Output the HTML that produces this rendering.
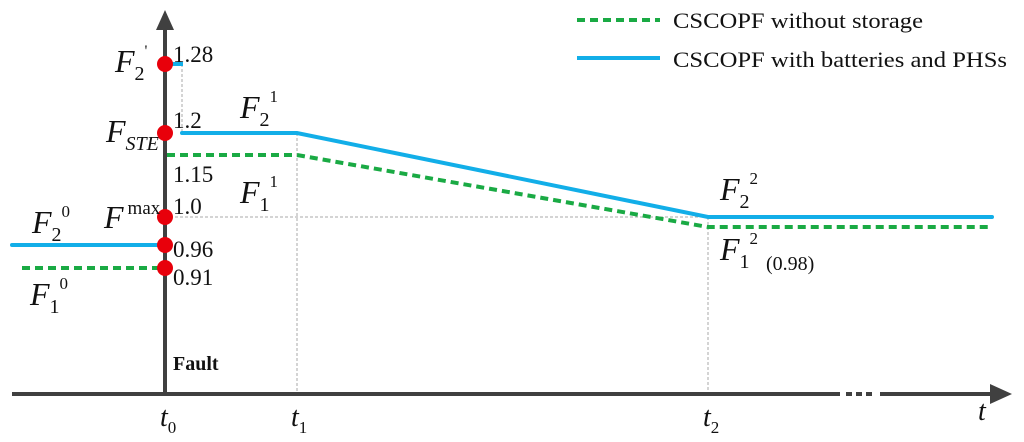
<!DOCTYPE html>
<html><head><meta charset="utf-8"><style>
body{margin:0;background:#fff}
svg{font-family:"Liberation Serif",serif;display:block}
.it{font-style:italic}
</style></head><body>
<svg width="1024" height="442" viewBox="0 0 1024 442">
<g id="grid" stroke="#aaa" stroke-width="1" stroke-dasharray="3,2" fill="none"></g>
<g id="axes">
 <line x1="12" y1="394" x2="840" y2="394" stroke="#404040" stroke-width="4"/>
 <line x1="846" y1="394" x2="876" y2="394" stroke="#404040" stroke-width="4" stroke-dasharray="6,4"/>
 <line x1="880" y1="394" x2="995" y2="394" stroke="#404040" stroke-width="4"/>
 <polygon points="1012,394 990,384 990,404" fill="#404040"/>
 <line x1="165" y1="394" x2="165" y2="25" stroke="#404040" stroke-width="4"/>
 <polygon points="165,10 156,30 174,30" fill="#404040"/>
</g>
<g id="series"></g>
<g id="dots"></g>
<g id="labels" font-size="23" fill="#111">
 <text x="115" y="72" class="it" font-size="32">F<tspan font-size="20" dy="8" font-style="normal">2</tspan><tspan font-size="16" dy="-24" font-style="normal">'</tspan></text>
 <text x="106" y="142" class="it" font-size="32">F<tspan font-size="20" dy="8">STE</tspan></text>
 <text x="104" y="228" class="it" font-size="32">F<tspan font-size="19" dy="-14" dx="4" font-style="normal">max</tspan></text>
 <text x="32" y="233" class="it" font-size="32">F<tspan font-size="20" dy="8" font-style="normal">2</tspan><tspan font-size="17" dy="-24" font-style="normal">0</tspan></text>
 <text x="30" y="305" class="it" font-size="32">F<tspan font-size="20" dy="8" font-style="normal">1</tspan><tspan font-size="17" dy="-24" font-style="normal">0</tspan></text>
 <text x="240" y="118" class="it" font-size="32">F<tspan font-size="20" dy="8" font-style="normal">2</tspan><tspan font-size="17" dy="-24" font-style="normal">1</tspan></text>
 <text x="240" y="203" class="it" font-size="32">F<tspan font-size="20" dy="8" font-style="normal">1</tspan><tspan font-size="17" dy="-24" font-style="normal">1</tspan></text>
 <text x="720" y="200" class="it" font-size="32">F<tspan font-size="20" dy="8" font-style="normal">2</tspan><tspan font-size="17" dy="-24" font-style="normal">2</tspan></text>
 <text x="720" y="260" class="it" font-size="32">F<tspan font-size="20" dy="8" font-style="normal">1</tspan><tspan font-size="17" dy="-24" font-style="normal">2</tspan></text>
 <text x="766" y="270" font-size="20">(0.98)</text>
 <text x="173" y="62">1.28</text>
 <text x="173" y="128">1.2</text>
 <text x="173" y="182">1.15</text>
 <text x="173" y="214">1.0</text>
 <text x="173" y="257">0.96</text>
 <text x="173" y="285">0.91</text>
 <text x="173" y="370" font-weight="bold" font-size="20">Fault</text>
 <text x="160" y="426" class="it" font-size="28">t<tspan font-size="17" dy="7" font-style="normal">0</tspan></text>
 <text x="291" y="426" class="it" font-size="28">t<tspan font-size="17" dy="7" font-style="normal">1</tspan></text>
 <text x="703" y="426" class="it" font-size="28">t<tspan font-size="17" dy="7" font-style="normal">2</tspan></text>
 <text x="978" y="420" class="it" font-size="28">t</text>
</g>
<g id="legend" font-size="22" fill="#111">
 <line x1="577" y1="20" x2="660" y2="20" stroke="#1aaa44" stroke-width="4" stroke-dasharray="8,5"/>
 <text x="673" y="28" textLength="250" lengthAdjust="spacingAndGlyphs">CSCOPF without storage</text>
 <line x1="577" y1="58" x2="660" y2="58" stroke="#12aee8" stroke-width="4"/>
 <text x="673" y="67" textLength="334" lengthAdjust="spacingAndGlyphs">CSCOPF with batteries and PHSs</text>
</g>
</svg>
<script>
const timeKeys = ["start","t0","t1","t2","end"];
const blueValues = [0.96, 1.2, 1.2, 1.0, 1.0];
const greenValues = [0.91, 1.15, 1.15, 0.98, 0.98];
const blueSpike = 1.28;
const dotValues = [1.28, 1.2, 1.0, 0.96, 0.91];
const yKnots = [0.91, 0.96, 0.98, 1.0, 1.15, 1.2, 1.28];
const yPix = [268, 245, 227, 217, 155, 133, 64];
function y(v){
  if(v<=yKnots[0]) return yPix[0]+(v-yKnots[0])*(yPix[1]-yPix[0])/(yKnots[1]-yKnots[0]);
  for(let i=0;i<yKnots.length-1;i++){
    if(v<=yKnots[i+1]) return yPix[i]+(v-yKnots[i])*(yPix[i+1]-yPix[i])/(yKnots[i+1]-yKnots[i]);
  }
  const n=yKnots.length-1;
  return yPix[n]+(v-yKnots[n])*(yPix[n]-yPix[n-1])/(yKnots[n]-yKnots[n-1]);
}
const xMap = {start:12,t0:165,t1:297,t2:708,end:992};
function x(k){return xMap[k];}
const NS="http://www.w3.org/2000/svg";
function mk(tag,attrs,parent){const e=document.createElementNS(NS,tag);for(const k in attrs)e.setAttribute(k,attrs[k]);document.getElementById(parent).appendChild(e);return e;}
let g;
g=mk("line",{x1:182,y1:y(blueSpike),x2:182,y2:y(blueValues[1])},"grid");


g=mk("line",{x1:x("t0"),y1:y(1.0),x2:x("t2"),y2:y(1.0)},"grid");


g=mk("line",{x1:x("t1"),y1:y(blueValues[2]),x2:x("t1"),y2:394},"grid");


g=mk("line",{x1:x("t2"),y1:y(blueValues[3]),x2:x("t2"),y2:394},"grid");


let s;
s=mk("line",{x1:x("start"),y1:y(blueValues[0]),x2:x("t0")-5,y2:y(blueValues[0]),stroke:"#12aee8","stroke-width":4,"stroke-linecap":"round"},"series");


s=mk("line",{x1:x("t0")+5,y1:y(blueSpike),x2:183,y2:y(blueSpike),stroke:"#12aee8","stroke-width":4},"series");


s=mk("polyline",{points:[[182,y(blueValues[1])],[x("t1"),y(blueValues[2])],[x("t2"),y(blueValues[3])],[x("end"),y(blueValues[4])]].map(p=>p.join(",")).join(" "),stroke:"#12aee8","stroke-width":4,fill:"none","stroke-linecap":"round"},"series");


s=mk("line",{x1:22,y1:y(greenValues[0]),x2:x("t0")-5,y2:y(greenValues[0]),stroke:"#1aaa44","stroke-width":4,"stroke-dasharray":"8,5"},"series");


s=mk("polyline",{points:[[x("t0")+2,y(greenValues[1])],[x("t1"),y(greenValues[2])],[x("t2"),y(greenValues[3])],[x("end"),y(greenValues[4])]].map(p=>p.join(",")).join(" "),stroke:"#1aaa44","stroke-width":4,fill:"none","stroke-dasharray":"8,5"},"series");


dotValues.forEach(v=>{
  const d=mk("circle",{cx:x("t0"),cy:y(v),r:8,fill:"#e8000b"},"dots");
  
  
});
</script>
</body></html>
